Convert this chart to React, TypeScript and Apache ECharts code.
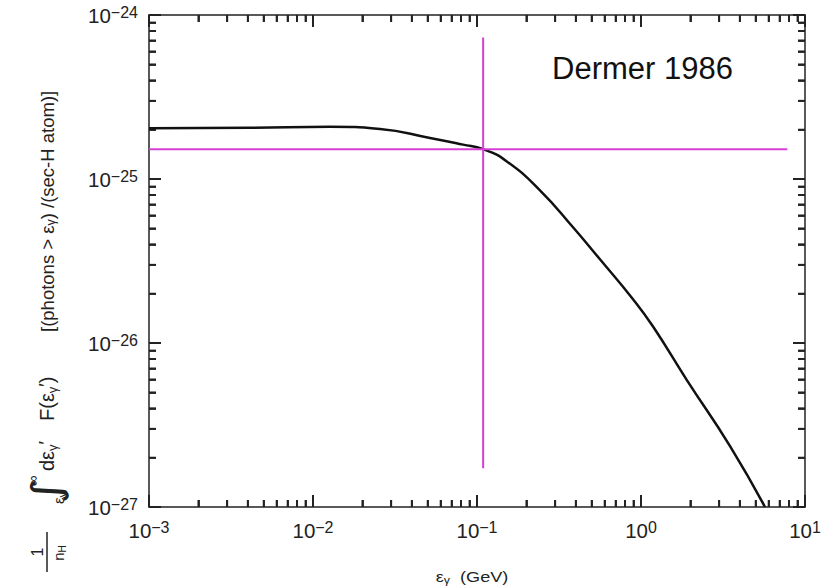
import React, { useEffect, useRef } from "react";
import * as echarts from "echarts";

// Integral gamma-ray emissivity from pion decay (Dermer 1986)
// photons / (s · H atom) above energy ε
const energyGeV = [0.001, 0.00413, 0.0127, 0.0256, 0.0517, 0.0822, 0.109, 0.152, 0.242, 0.385, 0.562, 0.894, 1.184, 1.908, 3.49, 5.7];
const emissivity = [2.04e-25, 2.05e-25, 2.08e-25, 2.02e-25, 1.78e-25, 1.62e-25, 1.52e-25, 1.28e-25, 8.53e-26, 5.08e-26, 3.24e-26, 1.85e-26, 1.26e-26, 5.92e-27, 2.35e-27, 1.0e-27];

// Marker cross through the curve
const refEnergy = 0.109;
const refEmissivity = 1.52e-25;
const hLineEnergy = [0.001, 7.8];
const vLineEmissivity = [1.72e-27, 7.3e-25];

// Axis ranges and tick positions
const xRange = [1e-3, 10];
const yRange = [1e-27, 1e-24];
const xDecades = [-3, -2, -1, 0];
const yDecades = [-27, -26, -25];
const minorMultipliers = [2, 3, 4, 5, 6, 7, 8, 9];

// The log axis rounds tick values to 10 decimals, so the y values are
// plotted in units of 1e-27 and the labels carry the exponent back.
const Y_EXP = -27;
const Y_UNIT = Math.pow(10, Y_EXP);
const toY = (v: number) => v / Y_UNIT;

const AXIS_COLOR = "#222";
const TICK_WIDTH = 1.8;
const MAGENTA = "#d63fd6";
const FONT = "'Liberation Sans', Arial, Helvetica, sans-serif";

function powText(e: number) {
  const s = e < 0 ? "\u2212" + Math.abs(e) : String(e);
  return "{b|10}{s|" + s + "}";
}
const xLabel = (v: number) => powText(Math.round(Math.log10(v)));
const yLabel = (v: number) => powText(Math.round(Math.log10(v)) + Y_EXP);

const labelRich = {
  b: { fontSize: 20.5, lineHeight: 22, fontFamily: FONT, color: "#222" },
  s: { fontSize: 16, lineHeight: 14, fontFamily: FONT, color: "#222", verticalAlign: "top" },
};

function subText(x: number, y: number, text: string, size: number, subSize: number, align = "center") {
  return {
    type: "text",
    x,
    y,
    z: 2,
    style: {
      text,
      fill: "#222",
      align,
      verticalAlign: "middle",
      rich: {
        m: { fontSize: size, lineHeight: size + 3, fontFamily: FONT, fill: "#222" },
        s: { fontSize: subSize, lineHeight: subSize, fontFamily: FONT, fill: "#222", verticalAlign: "bottom" },
        p: { fontSize: size - 1, lineHeight: size - 3, fontFamily: FONT, fill: "#222", verticalAlign: "top" },
      },
    },
  };
}

function buildTitles(): any[] {
  return [
    {
      type: "text",
      x: 552,
      y: 68,
      z: 2,
      style: { text: "Dermer 1986", fontSize: 31, fontFamily: FONT, fill: "#111", align: "left", verticalAlign: "middle" },
    },
    { ...subText(472, 577, "{m|ε}{s|γ}{m|  (GeV)}", 14.5, 10), scaleX: 1.25 },
    {
      // vertical axis title, read bottom to top
      type: "group",
      x: 47,
      y: 575,
      rotation: Math.PI / 2,
      children: [
        {
          type: "text",
          x: 23,
          y: -10,
          z: 2,
          style: { text: "1", fontSize: 16, fontFamily: FONT, fill: "#222", align: "center", verticalAlign: "middle" },
        },
        { type: "line", z: 2, shape: { x1: 3, y1: 0, x2: 43, y2: 0 }, style: { stroke: "#222", lineWidth: 1.5 } },
        subText(22, 11, "{m|n}{s|H}", 15, 10),
        {
          type: "text",
          x: 84,
          y: -1,
          z: 2,
          scaleX: 1.2,
          style: { text: "∫", fontSize: 40, fontFamily: "'DejaVu Sans', sans-serif", fill: "#222", align: "center", verticalAlign: "middle" },
        },
        {
          type: "text",
          x: 94,
          y: -15,
          z: 2,
          style: { text: "∞", fontSize: 15, fontFamily: FONT, fill: "#222", align: "center", verticalAlign: "middle" },
        },
        subText(77, 11, "{m|ε}{s|γ}", 15, 11),
        subText(104, 0, "{m|dε}{s|γ}{p|′}", 20, 13, "left"),
        subText(154, 0, "{m|F(ε}{s|γ}{p|′}{m|)}", 20, 13, "left"),
        subText(243, 0, "{m|[(photons > ε}{s|γ}{m|) /(sec-H atom)]}", 18.5, 12.5, "left"),
      ],
    },
  ];
}

export default function App() {
  const ref = useRef<HTMLDivElement>(null);

  useEffect(() => {
    if (!ref.current) return;
    const chart = echarts.init(ref.current, undefined, { renderer: "svg" });

    const curve = energyGeV.map((e, i) => [e, toY(emissivity[i])]);
    const yMin = toY(yRange[0]);
    const yMax = toY(yRange[1]);

    const xMajor = [...xDecades, 1].map((d) => Math.pow(10, d));
    const yMajor = [...yDecades, -24].map((d) => toY(Math.pow(10, d)));
    const xMinor: number[] = [];
    xDecades.forEach((d) => minorMultipliers.forEach((m) => xMinor.push(m * Math.pow(10, d))));
    const yMinor: number[] = [];
    yDecades.forEach((d) => minorMultipliers.forEach((m) => yMinor.push(toY(m * Math.pow(10, d)))));

    const axisCommon = {
      type: "log",
      logBase: 10,
      axisLine: { show: true, lineStyle: { color: AXIS_COLOR, width: 1.5 } },
      axisTick: { show: true, inside: true, length: 12, lineStyle: { color: AXIS_COLOR, width: TICK_WIDTH } },
      minorTick: { show: true, splitNumber: 9, length: 7, lineStyle: { color: AXIS_COLOR, width: TICK_WIDTH } },
      splitLine: { show: false },
    };
    const baseX = { ...axisCommon, min: xRange[0], max: xRange[1] };
    const baseY = { ...axisCommon, min: yMin, max: yMax };

    chart.setOption({
      animation: false,
      backgroundColor: "#fff",
      grid: { left: 149, top: 15, width: 656, height: 492, containLabel: false },
      xAxis: [
        {
          ...baseX,
          position: "bottom",
          axisLabel: { show: true, margin: 12, formatter: xLabel, rich: labelRich, showMinLabel: true, showMaxLabel: true },
        },
        { ...baseX, position: "top", axisLabel: { show: false } },
      ],
      yAxis: [
        {
          ...baseY,
          position: "left",
          axisLabel: { show: true, margin: 11, formatter: yLabel, rich: labelRich, showMinLabel: true, showMaxLabel: true },
        },
        { ...baseY, position: "right", axisLabel: { show: false } },
      ],
      series: [
        { type: "line", data: curve, smooth: 0.5, symbol: "none", lineStyle: { color: "#111", width: 2.5 }, z: 3 },
        { type: "line", data: hLineEnergy.map((e) => [e, toY(refEmissivity)]), symbol: "none", lineStyle: { color: MAGENTA, width: 2 }, z: 4 },
        { type: "line", data: vLineEmissivity.map((f) => [refEnergy, toY(f)]), symbol: "none", lineStyle: { color: MAGENTA, width: 2 }, z: 4 },
      ],
    });

    // Tick marks on all four frame edges, placed through the axes' own scales
    const finder = { xAxisIndex: 0, yAxisIndex: 0 };
    const ticks: any[] = [];
    const tickLine = (x1: number, y1: number, x2: number, y2: number) => ({
      type: "line",
      z: 1,
      shape: { x1, y1, x2, y2 },
      style: { stroke: AXIS_COLOR, lineWidth: TICK_WIDTH },
    });
    const addX = (v: number, len: number) => {
      const b = chart.convertToPixel(finder, [v, yMin]) as number[];
      const t = chart.convertToPixel(finder, [v, yMax]) as number[];
      ticks.push(tickLine(b[0], b[1], b[0], b[1] - len));
      ticks.push(tickLine(t[0], t[1], t[0], t[1] + len));
    };
    const addY = (v: number, len: number) => {
      const l = chart.convertToPixel(finder, [xRange[0], v]) as number[];
      const r = chart.convertToPixel(finder, [xRange[1], v]) as number[];
      ticks.push(tickLine(l[0], l[1], l[0] + len, l[1]));
      ticks.push(tickLine(r[0], r[1], r[0] - len, r[1]));
    };
    xMajor.forEach((v) => addX(v, 12));
    xMinor.forEach((v) => addX(v, 7));
    yMajor.forEach((v) => addY(v, 12));
    yMinor.forEach((v) => addY(v, 7));

    chart.setOption({ graphic: [...ticks, ...buildTitles()] });

    return () => chart.dispose();
  }, []);

  return <div ref={ref} style={{ position: "absolute", left: 0, top: 0, width: 825, height: 587 }} />;
}
